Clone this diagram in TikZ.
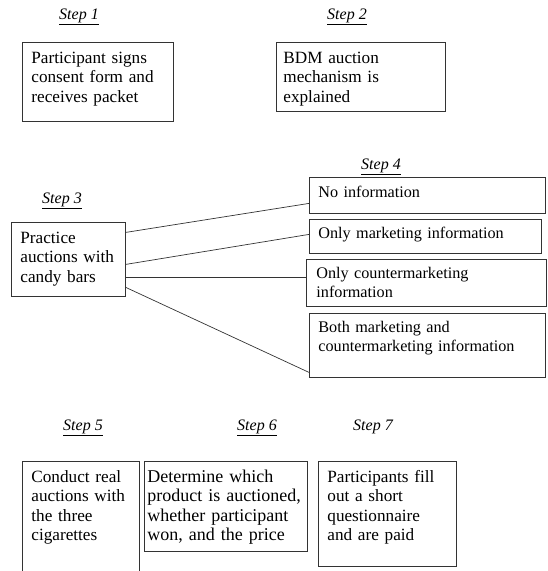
\documentclass[tikz,border=0pt]{standalone}
\usepackage{fontspec}
\setmainfont{Liberation Serif}
\tikzstyle{stepbox} = [rectangle, draw=black!80, line width=0.8pt, anchor=north west, align=left, inner xsep=9pt, inner ysep=0pt, font=\fontsize{17.2}{19.5}\selectfont]
\tikzstyle{infobox} = [stepbox, font=\fontsize{16.2}{19}\selectfont]
\tikzstyle{steplabel} = [anchor=base, font=\fontsize{16}{19}\selectfont\itshape]
\tikzstyle{line} = [draw=black!80, line width=0.7pt]
\begin{document}
\begin{tikzpicture}[x=1pt, y=-1pt]
	\useasboundingbox (0,0) rectangle (547,571);
	\clip (0,0) rectangle (547,571);
	\node (lab1) [steplabel] at (79,19) {\underline{Step 1}};
	\node (lab2) [steplabel] at (347,19) {\underline{Step 2}};
	\node (lab3) [steplabel] at (62,203) {\underline{Step 3}};
	\node (lab4) [steplabel] at (381,169) {\underline{Step 4}};
	\node (lab5) [steplabel] at (83,430) {\underline{Step 5}};
	\node (lab6) [steplabel] at (257,430) {\underline{Step 6}};
	\node (lab7) [steplabel] at (373,430) {Step 7};
	\node (step1) [stepbox, text width=133pt, text height=21pt, text depth=58pt] at (22,42) {Participant signs\\consent form and\\receives packet};
	\node (step2) [stepbox, inner xsep=7pt, text width=155pt, text height=21pt, text depth=48pt] at (276,42) {BDM auction\\mechanism is\\explained};
	\node (step3) [stepbox, text width=96pt, text height=21pt, text depth=53pt] at (11,222) {Practice\\auctions with\\candy bars};
	\node (noinfo) [infobox, text width=218pt, text height=20pt, text depth=16pt] at (309,177) {No information};
	\node (mktinfo) [infobox, text width=214pt, text height=19pt, text depth=15pt] at (309,219) {Only marketing information};
	\node (ctrinfo) [infobox, inner xsep=10pt, text width=220pt, text height=19pt, text depth=28pt] at (306,259) {Only countermarketing\\information};
	\node (bothinfo) [infobox, text width=218pt, text height=19pt, text depth=45pt] at (309,313) {Both marketing and\\countermarketing information};
	\node (step5) [stepbox, text width=99pt, text height=21pt, text depth=98pt] at (22,461) {Conduct real\\auctions with\\the three\\cigarettes};
	\node (step6) [stepbox, inner xsep=3pt, text width=157pt, text height=21pt, text depth=69pt, font=\fontsize{18}{19.5}\selectfont] at (144,461) {Determine which\\product is auctioned,\\whether participant\\won, and the price};
	\node (step7) [stepbox, text width=120pt, text height=21pt, text depth=84pt] at (318,461) {Participants fill\\out a short\\questionnaire\\and are paid};
	\draw [line] ([yshift=27pt]step3.east) -- ([yshift=-8pt]noinfo.west);
	\draw [line] ([yshift=-5pt]step3.east) -- ([yshift=2pt]mktinfo.west);
	\draw [line] ([yshift=-18pt]step3.east) -- ([yshift=5.5pt]ctrinfo.west);
	\draw [line] ([yshift=-28pt]step3.east) -- ([yshift=-27pt]bothinfo.west);
\end{tikzpicture}
\end{document}
